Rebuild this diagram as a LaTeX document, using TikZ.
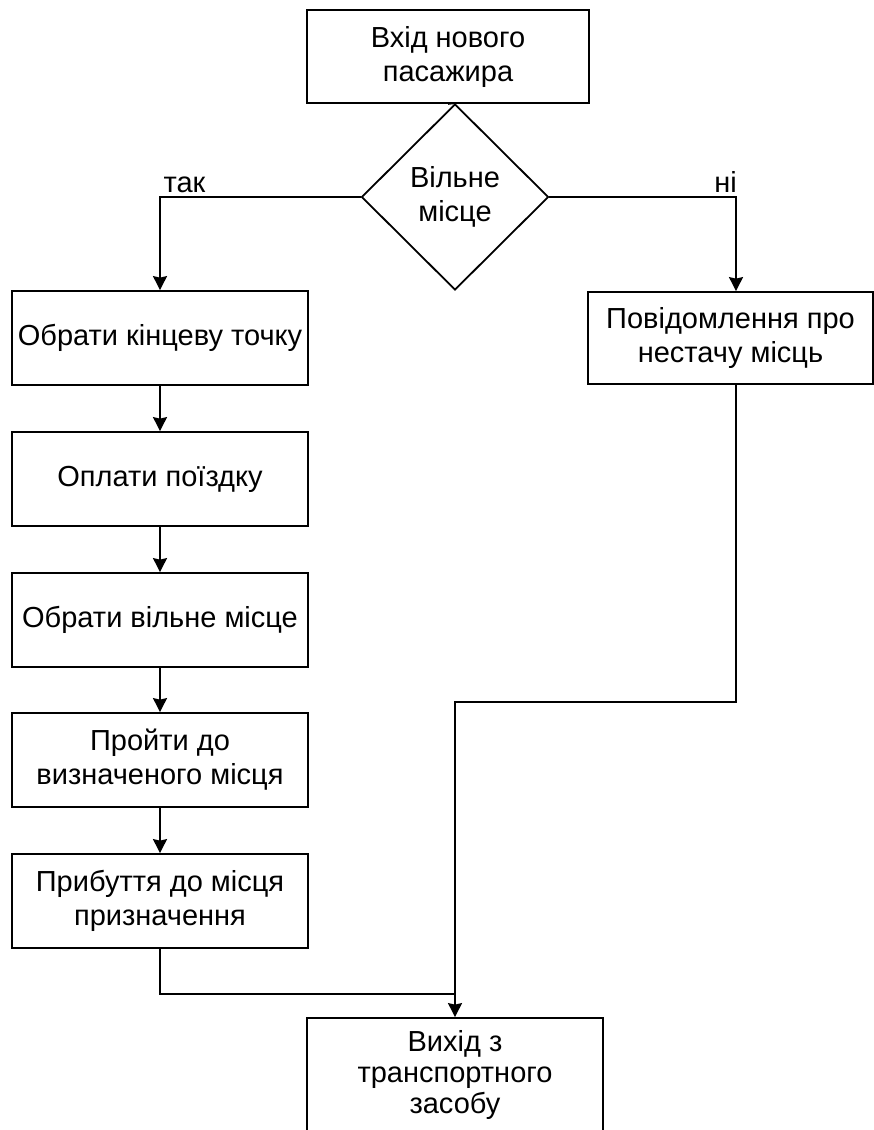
\documentclass[tikz,border=0pt]{standalone}
\usepackage{fontspec}
\setmainfont{Liberation Sans}
\usetikzlibrary{arrows.meta,shapes.geometric}
\begin{document}
\begin{tikzpicture}[x=1pt,y=-1pt,
  every node/.style={font=\fontsize{29}{34}\selectfont},
  box/.style={draw, line width=1.8pt, rectangle, inner sep=0pt, align=center,
              minimum width=296pt, minimum height=94pt},
  decision/.style={draw, line width=1.8pt, diamond, aspect=1, inner sep=0pt,
                   align=center, minimum width=187pt, minimum height=186pt},
  flow/.style={draw, line width=1.8pt, -{Stealth[length=14pt,width=14pt,inset=1.5pt]}},
  link/.style={draw, line width=1.8pt},
  tag/.style={inner sep=0pt, anchor=base}]
\useasboundingbox (0,0) rectangle (874,1130);
\fill[white] (0,0) rectangle (874,1130);

% start and the seat check
\node[box, minimum width=282pt, minimum height=93pt] (start) at (448,56.5) {Вхід нового\\пасажира};
\node[decision] (dec) at (455,197) {Вільне\\місце};

% main sequence on the left
\node[box] (b1) at (160,338) {Обрати кінцеву точку};
\node[box] (b2) at (160,479) {Оплати поїздку};
\node[box] (b3) at (160,620) {Обрати вільне місце};
\node[box] (b4) at (160,760) {Пройти до\\визначеного місця};
\node[box] (b5) at (160,901) {Прибуття до місця\\призначення};

% no free seat
\node[box, minimum width=285pt, minimum height=92pt] (no) at (730.5,338) {Повідомлення про\\нестачу місць};

% exit
\node[box, minimum height=114pt, font=\fontsize{29}{31}\selectfont] (out) at (455,1075) {Вихід з\\транспортного\\засобу};

% branch labels
\node[tag] at (184.5,192) {так};
\node[tag] at (725.5,192) {ні};

% connectors
\draw[link] (start.south) -- (dec.north);
\draw[flow] (dec.west) -| (b1.north);
\draw[flow] (dec.east) -| ([xshift=5.5pt]no.north);
\draw[flow] (b1) -- (b2);
\draw[flow] (b2) -- (b3);
\draw[flow] (b3) -- (b4);
\draw[flow] (b4) -- (b5);
\coordinate (bend) at (736,702);
\coordinate (join) at (455,994);
\draw[flow] ([xshift=5.5pt]no.south) -- (bend) -| (out.north);
\draw[link] (b5.south) |- (join);
\end{tikzpicture}
\end{document}
